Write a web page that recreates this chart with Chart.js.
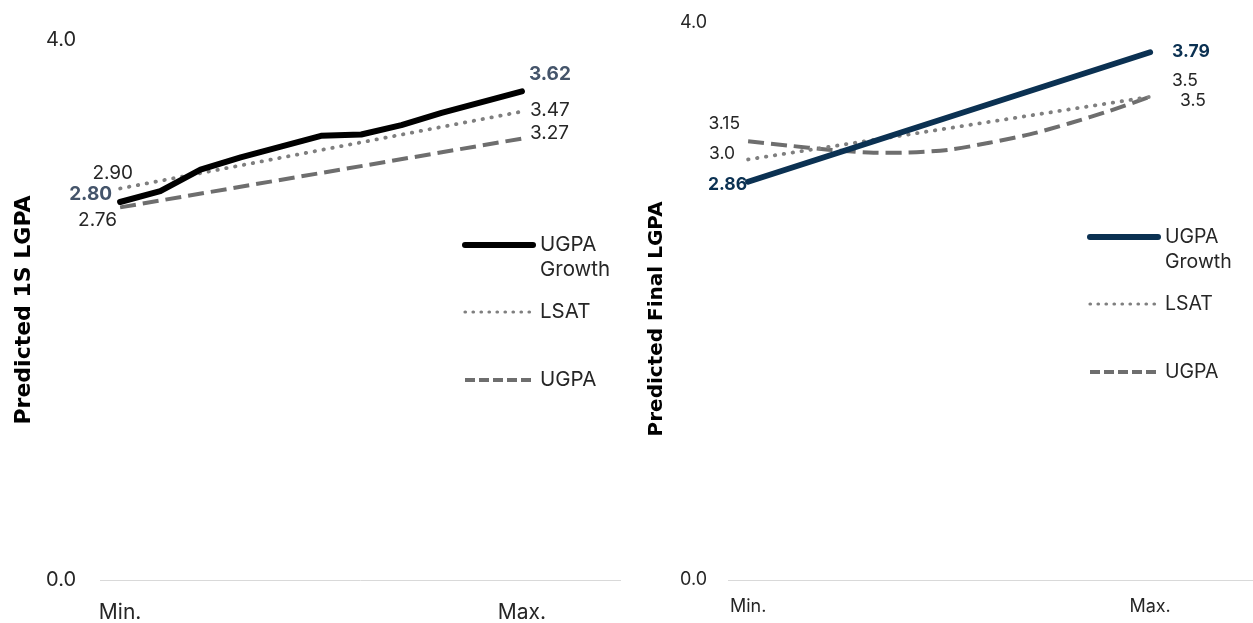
<!DOCTYPE html>
<html>
<head>
<meta charset="utf-8">
<script src="https://cdn.jsdelivr.net/npm/chart.js@4.4.1/dist/chart.umd.min.js"></script>
<style>
  html, body { margin: 0; padding: 0; background: #ffffff; }
  #wrap { position: relative; width: 1253px; height: 623px; overflow: hidden; }
  .panel { position: absolute; top: 0; height: 623px; }
  #p1 { left: 0; width: 626px; }
  #p2 { left: 626px; width: 627px; }
</style>
</head>
<body>
<div id="wrap">
  <div class="panel" id="p1"><canvas id="c1"></canvas></div>
  <div class="panel" id="p2"><canvas id="c2"></canvas></div>
</div>
<script>
// Predictor range: 11 steps from the minimum to the maximum value
const xTickLabels = ['Min.', 'Max.'];
const steps = [0, 1, 2, 3, 4, 5, 6, 7, 8, 9, 10];
const ends = [0, 10];
const yTicks = [0, 4];
const seriesNames = ['UGPA Growth', 'LSAT', 'UGPA'];

// Predicted first-semester LGPA
const firstGrowth = [2.80, 2.88, 3.04, 3.13, 3.21, 3.29, 3.30, 3.37, 3.46, 3.54, 3.62];
const firstLsat = [2.90, 3.47];
const firstUgpa = [2.76, 3.27];

// Predicted final LGPA
const finalGrowth = [2.86, 3.79];
const finalLsat = [3.02, 3.47];
const finalUgpa = [3.15, 3.12, 3.09, 3.07, 3.07, 3.09, 3.14, 3.20, 3.28, 3.37, 3.47];

const FONT = 'Inter, "Open Sans", sans-serif';
const TITLE_FONT = '"DejaVu Sans", Inter, sans-serif';
const TEXT = '#262626';

function pairs(xs, ys) {
  return ys.map((y, i) => ({ x: xs[i], y: y }));
}

// Value labels at the first / last point of a series
const valueLabels = {
  id: 'valueLabels',
  afterDatasetsDraw(chart, args, opts) {
    const ctx = chart.ctx;
    ctx.save();
    ctx.textBaseline = 'middle';
    (opts.items || []).forEach(it => {
      const meta = chart.getDatasetMeta(it.ds);
      const ds = chart.data.datasets[it.ds];
      const idx = it.at === 'first' ? 0 : ds.data.length - 1;
      const pt = meta.data[idx];
      const v = ds.data[idx].y;
      ctx.font = (it.bold ? 'bold ' : '') + opts.size + 'px ' + FONT;
      ctx.fillStyle = it.color || TEXT;
      ctx.textAlign = it.align;
      ctx.fillText(v.toFixed(it.dec), pt.x + it.dx, pt.y + it.dy);
    });
    ctx.restore();
  }
};

// Legend drawn inside the plot, with wrapped names
const sideLegend = {
  id: 'sideLegend',
  afterDatasetsDraw(chart, args, opts) {
    const ctx = chart.ctx;
    ctx.save();
    ctx.font = opts.size + 'px ' + FONT;
    ctx.textBaseline = 'middle';
    ctx.textAlign = 'left';
    chart.data.datasets.forEach((ds, i) => {
      const y = opts.rows[i];
      ctx.beginPath();
      ctx.strokeStyle = ds.borderColor;
      ctx.lineWidth = opts.widths[i];
      ctx.lineCap = ds.borderCapStyle || 'butt';
      ctx.setLineDash(opts.dashes[i]);
      ctx.moveTo(opts.x0, y);
      ctx.lineTo(opts.x1, y);
      ctx.stroke();
      ctx.setLineDash([]);
      // word wrap
      const words = ds.label.split(' ');
      const lines = [];
      let cur = '';
      words.forEach(w => {
        const t = cur ? cur + ' ' + w : w;
        if (cur && ctx.measureText(t).width > opts.maxWidth) { lines.push(cur); cur = w; }
        else cur = t;
      });
      lines.push(cur);
      ctx.fillStyle = TEXT;
      lines.forEach((t, k) => ctx.fillText(t, opts.tx, y + k * opts.lineGap));
    });
    ctx.restore();
  }
};

function makeChart(id, cfg) {
  return new Chart(document.getElementById(id), {
    type: 'line',
    data: {
      datasets: [
        {
          label: seriesNames[0], data: cfg.growth,
          borderColor: cfg.mainColor, borderWidth: 6,
          borderCapStyle: 'round', borderJoinStyle: 'round',
          pointRadius: 0, tension: 0
        },
        {
          label: seriesNames[1], data: cfg.lsat,
          borderColor: '#7f7f7f', borderWidth: 3.8, borderDash: [0.5, 8.5],
          borderCapStyle: 'round', pointRadius: 0, tension: 0
        },
        {
          label: seriesNames[2], data: cfg.ugpa,
          borderColor: '#6e6e6e', borderWidth: 4, borderDash: [16, 7],
          borderCapStyle: 'butt', pointRadius: 0, tension: cfg.ugpaTension
        }
      ]
    },
    options: {
      responsive: true,
      maintainAspectRatio: false,
      animation: false,
      events: [],
      layout: { padding: cfg.padding },
      plugins: {
        legend: { display: false },
        tooltip: { enabled: false },
        valueLabels: { items: cfg.labels, size: cfg.labelSize },
        sideLegend: cfg.legend
      },
      scales: {
        x: {
          type: 'linear',
          min: cfg.xMin, max: cfg.xMax,
          grid: { display: false, drawTicks: false },
          border: { display: true, color: '#d9d9d9', width: 1 },
          afterBuildTicks: s => { s.ticks = ends.map(v => ({ value: v })); },
          afterFit: s => { s.height = 43; },
          ticks: {
            autoSkip: false, maxRotation: 0,
            padding: cfg.xTickPad,
            color: TEXT,
            font: { family: FONT, size: cfg.xTickSize },
            callback: (v, i) => xTickLabels[i]
          }
        },
        y: {
          min: 0, max: 4,
          grid: { display: false, drawTicks: false },
          border: { display: false },
          afterBuildTicks: s => { s.ticks = yTicks.map(v => ({ value: v })); },
          afterFit: s => {
            s.width = cfg.yWidth;
            // the outer padding already leaves room for the top label
            s.paddingTop = 12;
            s.paddingBottom = 12;
          },
          ticks: {
            padding: cfg.yTickPad,
            color: TEXT,
            font: { family: FONT, size: cfg.yTickSize },
            callback: v => Number(v).toFixed(1)
          },
          title: {
            display: true,
            text: cfg.title,
            color: '#000000',
            padding: { top: cfg.titlePad, bottom: 0 },
            font: { family: TITLE_FONT, size: cfg.titleSize, weight: 'bold' }
          }
        }
      }
    },
    plugins: [valueLabels, sideLegend]
  });
}

makeChart('c1', {
  growth: pairs(steps, firstGrowth),
  lsat: pairs(ends, firstLsat),
  ugpa: pairs(ends, firstUgpa),
  mainColor: '#000000',
  ugpaTension: 0,
  padding: { top: 40, right: 6, bottom: 0, left: 0 },
  xMin: -0.5, xMax: 12.44,
  yWidth: 100, yTickPad: 24, yTickSize: 20,
  xTickPad: 20, xTickSize: 21,
  title: 'Predicted 1S LGPA', titleSize: 22, titlePad: 11,
  labelSize: 19,
  labels: [
    { ds: 0, at: 'first', dec: 2, dx: -8, dy: -8, align: 'right', bold: true, color: '#44546a' },
    { ds: 1, at: 'first', dec: 2, dx: 13, dy: -15, align: 'right' },
    { ds: 2, at: 'first', dec: 2, dx: -3, dy: 13, align: 'right' },
    { ds: 0, at: 'last', dec: 2, dx: 7, dy: -17, align: 'left', bold: true, color: '#44546a' },
    { ds: 1, at: 'last', dec: 2, dx: 8, dy: -1, align: 'left' },
    { ds: 2, at: 'last', dec: 2, dx: 8, dy: -5, align: 'left' }
  ],
  legend: {
    x0: 465, x1: 533, tx: 540, rows: [245, 312, 380], lineGap: 25,
    size: 20.5, maxWidth: 84,
    widths: [6, 3.2, 4], dashes: [[], [0.5, 7.5], [10, 4]]
  }
});

makeChart('c2', {
  growth: pairs(ends, finalGrowth),
  lsat: pairs(ends, finalLsat),
  ugpa: pairs(steps, finalUgpa),
  mainColor: '#0b3152',
  ugpaTension: 0.3,
  padding: { top: 23, right: 0, bottom: 0, left: 0 },
  xMin: -0.5, xMax: 12.56,
  yWidth: 102, yTickPad: 21, yTickSize: 18,
  xTickPad: 16, xTickSize: 18,
  title: 'Predicted Final LGPA\u00a0\u00a0\u00a0\u00a0\u00a0', titleSize: 20, titlePad: 19,
  labelSize: 17.5,
  labels: [
    { ds: 0, at: 'first', dec: 2, dx: -1, dy: 3, align: 'right', bold: true, color: '#0b3152' },
    { ds: 2, at: 'first', dec: 2, dx: -8, dy: -18, align: 'right' },
    { ds: 1, at: 'first', dec: 1, dx: -13, dy: -6, align: 'right' },
    { ds: 0, at: 'last', dec: 2, dx: 22, dy: -1, align: 'left', bold: true, color: '#0b3152' },
    { ds: 1, at: 'last', dec: 1, dx: 22, dy: -16, align: 'left' },
    { ds: 2, at: 'last', dec: 1, dx: 30, dy: 4, align: 'left' }
  ],
  legend: {
    x0: 464, x1: 532, tx: 539, rows: [237, 304, 372], lineGap: 25,
    size: 19.5, maxWidth: 84,
    widths: [6, 3.2, 4], dashes: [[], [0.5, 7.5], [10, 4]]
  }
});
</script>
</body>
</html>
